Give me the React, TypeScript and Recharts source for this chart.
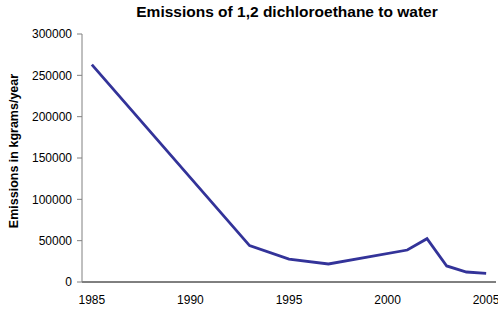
import { LineChart, Line, XAxis, YAxis } from 'recharts'

// emissions of 1,2 dichloroethane to water, kg/year
const years = [1985, 1993, 1995, 1997, 2001, 2002, 2003, 2004, 2005]
const emissions = [263000, 44000, 27800, 21800, 38700, 52400, 19400, 12100, 10500]

const yearTicks = [1985, 1990, 1995, 2000, 2005]
const valueTicks = [0, 50000, 100000, 150000, 200000, 250000, 300000]

const data = years.map((year, i) => ({ year, value: emissions[i] }))

const font = '"Liberation Sans", Arial, sans-serif'

export default function App() {
  return (
    <div style={{ position: 'absolute', left: 0, top: 0, width: 498, height: 311, background: '#fff', fontFamily: font }}>
      <div
        style={{
          position: 'absolute',
          left: 82,
          width: 410,
          top: 3,
          textAlign: 'center',
          fontSize: 15.5,
          fontWeight: 'bold',
          color: '#000',
        }}
      >
        Emissions of 1,2 dichloroethane to water
      </div>
      <LineChart width={498} height={311} data={data} margin={{ top: 34, right: 2, left: 0, bottom: 0 }}>
        {/* tick marks sit on category boundaries, labels in the middle of each year */}
        <XAxis
          xAxisId="frame"
          dataKey="year"
          type="number"
          domain={[1985, 2006]}
          allowDataOverflow
          ticks={yearTicks}
          tick={false}
          height={1}
          axisLine={{ stroke: '#000' }}
          tickLine={{ stroke: '#000' }}
          tickSize={4}
        />
        <XAxis
          xAxisId="year"
          dataKey="year"
          type="number"
          domain={[1984.5, 2005.5]}
          allowDataOverflow
          ticks={yearTicks}
          axisLine={false}
          tickLine={false}
          tickSize={5}
          tickMargin={7}
          height={28}
          tick={{ fontSize: 12, fill: '#000', fontFamily: font }}
        />
        <YAxis
          width={82}
          domain={[0, 300000]}
          ticks={valueTicks}
          axisLine={{ stroke: '#808080' }}
          tickLine={{ stroke: '#808080' }}
          tickSize={5}
          tickMargin={5}
          tick={{ fontSize: 12, fill: '#000', fontFamily: font }}
          label={{
            content: () => (
              <text
                x={15}
                y={151}
                transform="rotate(-90 15 151)"
                textAnchor="middle"
                dominantBaseline="middle"
                fontSize={12.5}
                fontWeight="bold"
                fontFamily={font}
                fill="#000"
              >
                Emissions in kgrams/year
              </text>
            ),
          }}
        />
        <Line
          xAxisId="year"
          dataKey="value"
          stroke="#333399"
          strokeWidth={2.8}
          dot={false}
          isAnimationActive={false}
        />
      </LineChart>
    </div>
  )
}
